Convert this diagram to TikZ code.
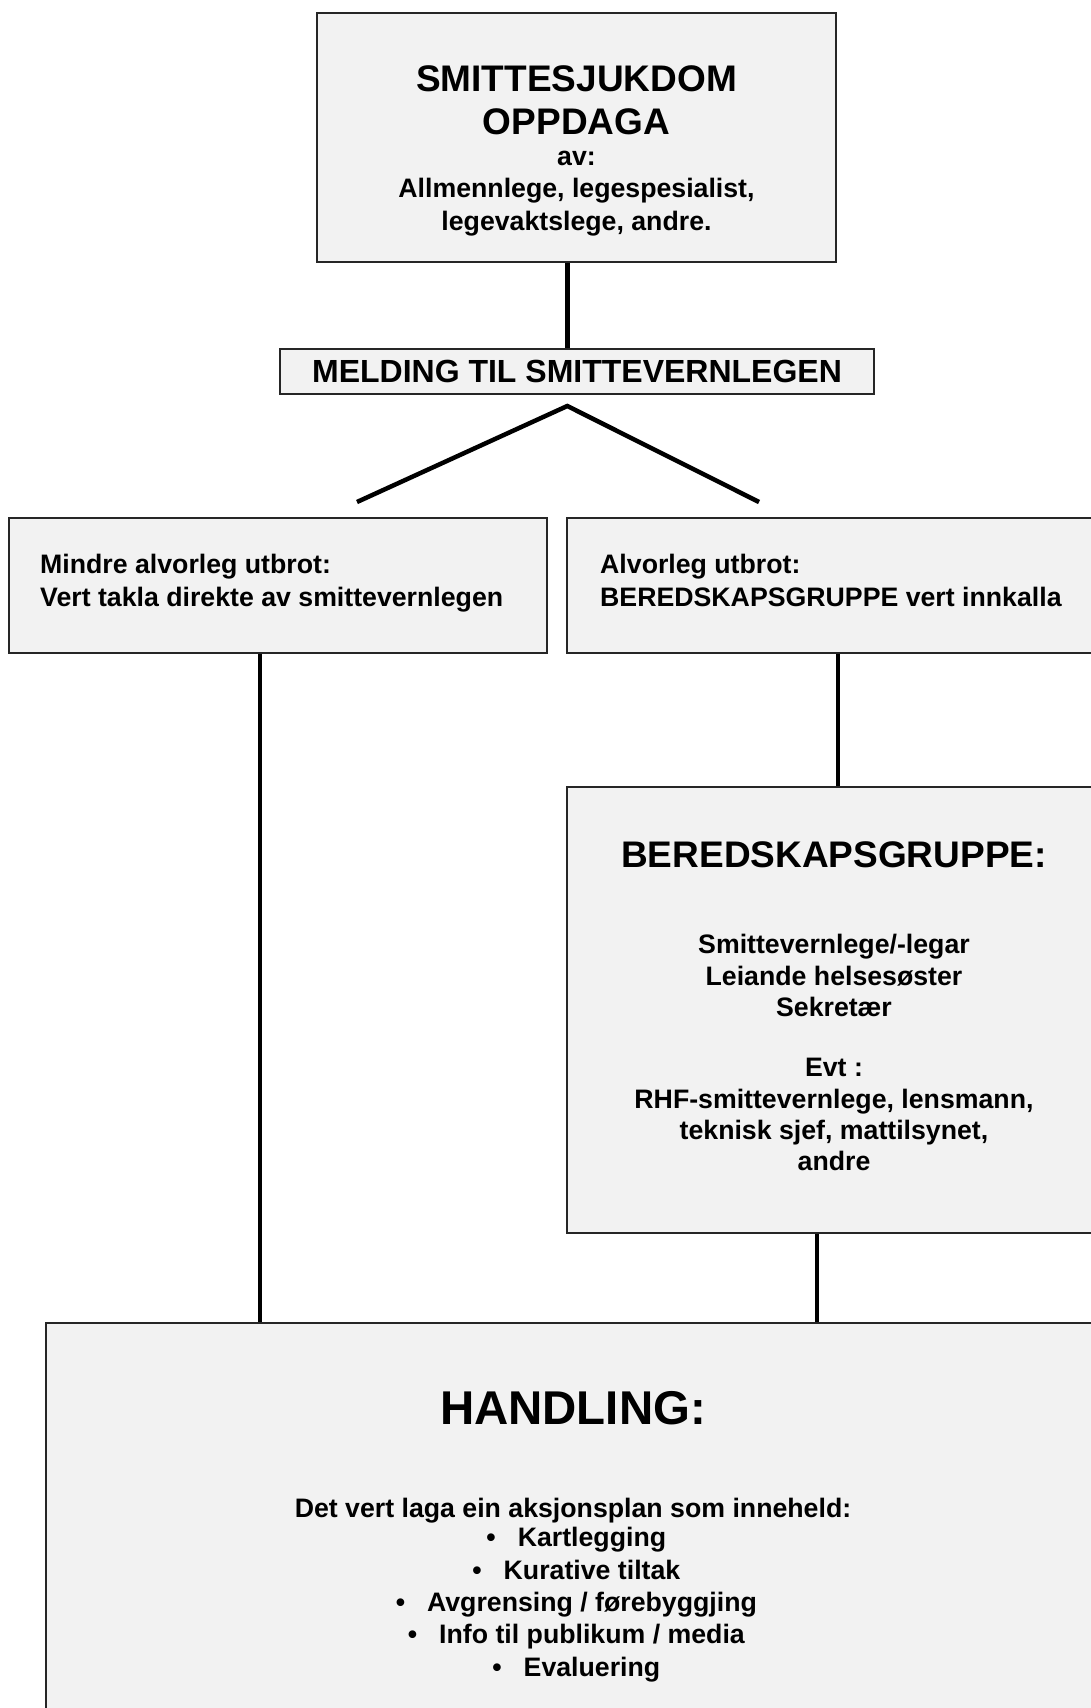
\documentclass[tikz,border=0pt]{standalone}
\usepackage{fontspec}
\setmainfont{Liberation Sans}
\begin{document}
\begin{tikzpicture}[x=1pt,y=-1pt,
  box/.style={draw=black!85, line width=1.6pt, fill=boxgray, rectangle, inner sep=0pt},
  conn/.style={draw=black, line width=4.5pt},
  txt/.style={inner sep=0pt, anchor=base, font=\bfseries\fontsize{26.7}{30}\selectfont},
  txtl/.style={inner sep=0pt, anchor=base west, font=\bfseries\fontsize{26.7}{30}\selectfont},
  big/.style={inner sep=0pt, anchor=base, font=\bfseries\fontsize{37}{42}\selectfont},
  mid/.style={inner sep=0pt, anchor=base, font=\bfseries\fontsize{32}{36}\selectfont},
  huge/.style={inner sep=0pt, anchor=base, font=\bfseries\fontsize{47.4}{52}\selectfont}
]
\definecolor{boxgray}{HTML}{F2F2F2}
\useasboundingbox (0,0) rectangle (1091,1708);
\clip (0,0) rectangle (1091,1708);

% boxes
\node[box, minimum width=519pt, minimum height=249pt] (top) at (576.5,137.5) {};
\node[box, minimum width=594pt, minimum height=45pt] (meld) at (577,371.5) {};
\node[box, minimum width=538pt, minimum height=135pt] (left) at (278,585.5) {};
\node[box, minimum width=533pt, minimum height=135pt] (right) at (833.5,585.5) {};
\node[box, minimum width=533pt, minimum height=446pt] (bered) at (833.5,1010) {};
\node[box, minimum width=1054pt, minimum height=397pt] (hand) at (573,1521.5) {};

% top box text
\node[big] (t1) at (576.5,91.6) {SMITTESJUKDOM};
\node[big] (t2) at (576.5,134.1) {OPPDAGA};
\node[txt] (t3) at (576.5,165.7) {av:};
\node[txt] (t4) at (576.5,197.8) {Allmennlege, legespesialist,};
\node[txt] (t5) at (576.5,230.4) {legevaktslege, andre.};

% melding
\node[mid] (m1) at (577,382) {MELDING TIL SMITTEVERNLEGEN};

% left / right
\node[txtl] (l1) at (40,573) {Mindre alvorleg utbrot:};
\node[txtl] (l2) at (40,606) {Vert takla direkte av smittevernlegen};
\node[txtl] (r1) at (600,573) {Alvorleg utbrot:};
\node[txtl] (r2) at (600,606) {BEREDSKAPSGRUPPE vert innkalla};

% beredskap
\node[big] (b0) at (834,867) {BEREDSKAPSGRUPPE:};
\node[txt] (b1) at (834,953.4) {Smittevernlege/-legar};
\node[txt] (b2) at (834,985) {Leiande helsesøster};
\node[txt] (b3) at (834,1016.4) {Sekretær};
\node[txt] (b4) at (834,1076.4) {Evt :};
\node[txt] (b5) at (834,1108) {RHF-smittevernlege, lensmann,};
\node[txt] (b6) at (834,1139.4) {teknisk sjef, mattilsynet,};
\node[txt] (b7) at (834,1170) {andre};

% handling
\node[huge] (h0) at (573,1424.8) {HANDLING:};
\node[txt] (h1) at (573,1517.4) {Det vert laga ein aksjonsplan som inneheld:};
\node[txt] (h2) at (592,1546.8) {\llap{\textbullet\hspace{22pt}}Kartlegging};
\node[txt] (h3) at (592,1579.4) {\llap{\textbullet\hspace{22pt}}Kurative tiltak};
\node[txt] (h4) at (592,1611) {\llap{\textbullet\hspace{22pt}}Avgrensing / førebyggjing};
\node[txt] (h5) at (592,1643.7) {\llap{\textbullet\hspace{22pt}}Info til publikum / media};
\node[txt] (h6) at (592,1676.4) {\llap{\textbullet\hspace{22pt}}Evaluering};

% connectors
\draw[conn] (567.5,0 |- top.south) -- (567.5,0 |- meld.north);
\coordinate (apex) at (567.3,406);
\coordinate (vL) at (357,502);
\coordinate (vR) at (759,502);
\draw[conn] (vL) -- (apex) -- (vR);
\draw[conn] (260,0 |- left.south) -- (260,0 |- hand.north);
\draw[conn] (838,0 |- right.south) -- (838,0 |- bered.north);
\draw[conn] (817,0 |- bered.south) -- (817,0 |- hand.north);
\end{tikzpicture}
\end{document}
